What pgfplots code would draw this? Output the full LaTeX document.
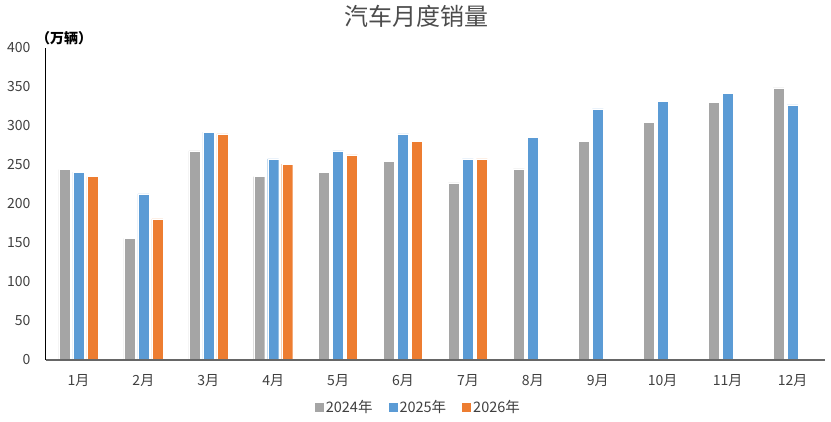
\documentclass[border=0pt]{standalone}
\usepackage{pgfplots}
\pgfplotsset{compat=1.18}
\usepackage{fontspec}
\setmainfont{Noto Sans CJK SC}
\definecolor{cgray}{HTML}{A5A5A5}
\definecolor{cblue}{HTML}{5B9BD5}
\definecolor{corange}{HTML}{ED7D31}
\definecolor{ctext}{HTML}{404040}
\begin{document}
\begin{tikzpicture}
\useasboundingbox (0,0) rectangle (831pt,421pt);
\begin{axis}[
  at={(46pt,61pt)}, anchor=south west,
  scale only axis, width=779pt, height=312pt,
  xmin=-0.5, xmax=11.5, ymin=0, ymax=400,
  ybar=3pt, bar width=11pt,
  axis on top,
  xtick={0,...,11},
  xticklabels={1月,2月,3月,4月,5月,6月,7月,8月,9月,10月,11月,12月},
  ytick={0,50,...,400},
  major tick length=0pt,
  axis x line*=bottom, axis y line*=left,
  x axis line style={draw=black!60, line width=1.6pt},
  y axis line style={draw=black, line width=1pt},
  every axis plot/.append style={draw=white, line width=0.4pt},
  tick label style={font=\fontsize{14}{16}\selectfont, text=ctext},
  /pgf/number format/assume math mode=true,
  yticklabel style={xshift=-12pt},
  xticklabel style={yshift=-11pt},
  legend style={at={(0.487,-0.151)}, anchor=center, draw=none, legend columns=-1,
    font=\fontsize{14.5}{16}\selectfont, text=ctext},
  legend image code/.code={\fill[#1,draw=none] (0pt,-4.5pt) rectangle (9pt,4.5pt);},
]
\addplot[fill=cgray] coordinates {(0,244) (1,156) (2,268) (3,235) (4,241) (5,255) (6,227) (7,245) (8,280) (9,305) (10,330) (11,349)};
\addplot[fill=cblue] coordinates {(0,241) (1,213) (2,292) (3,258) (4,268) (5,290) (6,258) (7,285) (8,322) (9,332) (10,342) (11,327)};
\addplot[fill=corange] coordinates {(0,235) (1,181) (2,290) (3,251) (4,263) (5,280) (6,258)};
\legend{2024年\rule{14pt}{0pt},2025年\rule{14pt}{0pt},2026年\rule{14pt}{0pt}}
\end{axis}
\node[text=black!70, font=\fontsize{24}{28}\selectfont] at (416pt,405pt) {汽车月度销量};
\node[text=black, font=\fontsize{14}{16}\selectfont\bfseries] at (64pt,383pt) {（万辆）};
\end{tikzpicture}
\end{document}
